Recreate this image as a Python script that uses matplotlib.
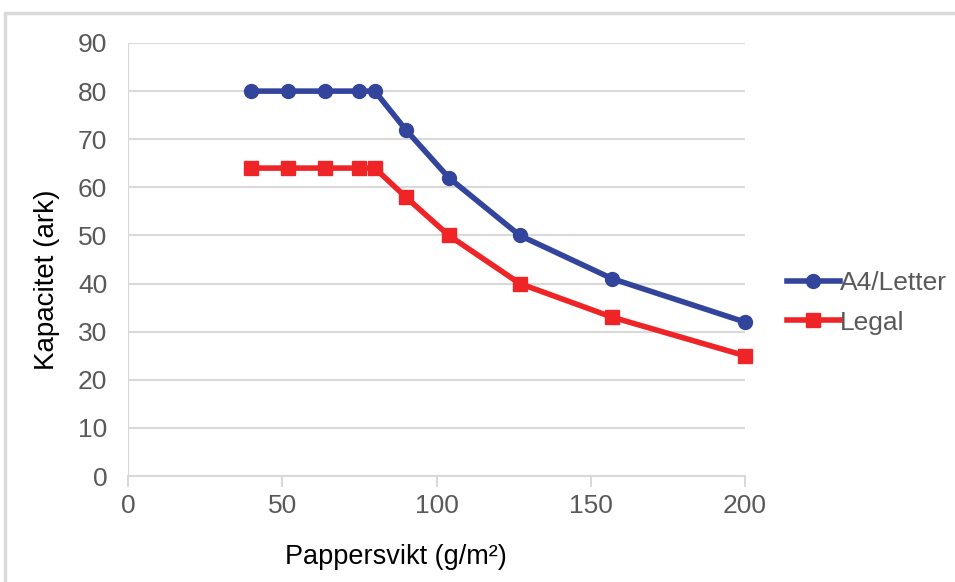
import matplotlib
matplotlib.use("Agg")
import matplotlib.pyplot as plt
from matplotlib.patches import Rectangle

# Paper weight (g/m2) and capacity (sheets)
weight = [40, 52, 64, 75, 80, 90, 104, 127, 157, 200]
a4_letter = [80, 80, 80, 80, 80, 72, 62, 50, 41, 32]
legal = [64, 64, 64, 64, 64, 58, 50, 40, 33, 25]

x_ticks = [0, 50, 100, 150, 200]
y_ticks = [0, 10, 20, 30, 40, 50, 60, 70, 80, 90]

plt.rcParams["font.family"] = ["Liberation Sans", "DejaVu Sans"]

fig = plt.figure(figsize=(9.55, 5.82), dpi=100)
ax = fig.add_axes([128 / 955, 1 - 476 / 582, (745 - 128) / 955, (476 - 43) / 582])

# outer frame of the chart area
fig.patches.append(Rectangle((5 / 955, -0.01), 1.0, 1 - 13 / 582 + 0.01, transform=fig.transFigure,
                             fill=False, edgecolor="#d9d9d9", linewidth=2.5, zorder=0))

ax.plot(weight, a4_letter, color="#33449c", linewidth=4, marker="o", markersize=10,
        label="A4/Letter", clip_on=False, zorder=3)
ax.plot(weight, legal, color="#ee2427", linewidth=4, marker="s", markersize=10,
        label="Legal", clip_on=False, zorder=3)

ax.set_xlim(0, 200)
ax.set_ylim(0, 90)
ax.set_xticks(x_ticks)
ax.set_yticks(y_ticks)
ax.grid(axis="y", color="#d9d9d9", linewidth=1.5)
ax.set_axisbelow(True)

for s in ["top", "right"]:
    ax.spines[s].set_visible(False)
ax.spines["left"].set_color("#d9d9d9")
ax.spines["bottom"].set_color("#d9d9d9")
ax.spines["bottom"].set_linewidth(1.5)

ax.tick_params(axis="y", length=0, pad=15, labelsize=19, labelcolor="#595959")
ax.tick_params(axis="x", length=8, width=1.5, color="#d9d9d9", pad=5, labelsize=19, labelcolor="#595959")

ax.set_xlabel("Pappersvikt (g/m²)", fontsize=19.5)
ax.set_ylabel("Kapacitet (ark)", fontsize=20)
ax.xaxis.set_label_coords(0.434, -0.157)
ax.yaxis.set_label_coords(-0.11, 0.453)

ax.legend(loc="center left", bbox_to_anchor=(1.068, 0.4), frameon=False, fontsize=19,
          handlelength=2.0, handletextpad=0.0, labelspacing=0.6, labelcolor="#595959",
          borderaxespad=0.0, borderpad=0.0)

fig.savefig("out.png", dpi=100)
